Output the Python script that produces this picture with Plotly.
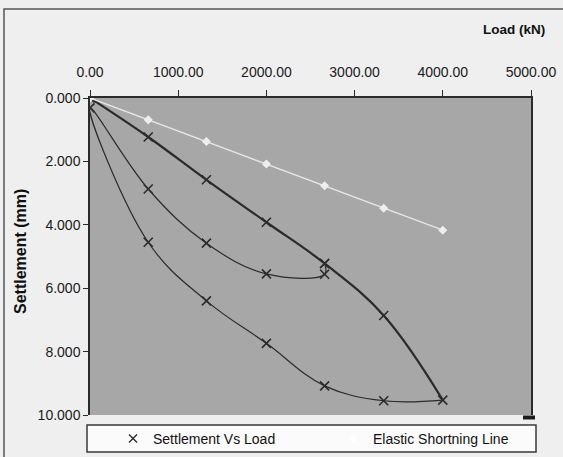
import plotly.graph_objects as go

# Pile load test: settlement readings through the load / unload cycles
load_kN = [0, 660, 1320, 2000, 2660, 3330, 4000, 3330, 2660, 2000, 1320, 660, 0,
           660, 1320, 2000, 2660, 2660]
settlement_mm = [0.00, 1.23, 2.58, 3.92, 5.22, 6.86, 9.53, 9.55, 9.08, 7.74, 6.40, 4.55, 0.31,
                 2.87, 4.58, 5.55, 5.56, 5.22]
n_loading = 7  # first stage: monotonic loading up to the peak load

# Elastic shortening of the pile shaft
elastic_load_kN = [0, 660, 1320, 2000, 2660, 3330, 4000]
elastic_settlement_mm = [0.00, 0.69, 1.37, 2.08, 2.77, 3.48, 4.17]

x_ticks = [0, 1000, 2000, 3000, 4000, 5000]
y_ticks = [0, 2, 4, 6, 8, 10]

# plot-area geometry in pixels (for placing paper-space decorations)
W, H = 563, 457
L, R, T, B = 90, 531, 98, 415


def px(x):
    return (x - L) / (R - L)


def py(y):
    return (B - y) / (B - T)


INK = "#2b2b2b"
FONT = "Liberation Sans, Arial, sans-serif"

fig = go.Figure()

# loading branch (heavier line)
fig.add_trace(go.Scatter(
    x=load_kN[:n_loading], y=settlement_mm[:n_loading],
    mode="lines", line=dict(color=INK, width=2.2, shape="spline", smoothing=1.1),
    showlegend=False, hoverinfo="skip"))

# unloading / reloading branches
fig.add_trace(go.Scatter(
    x=load_kN[n_loading - 1:], y=settlement_mm[n_loading - 1:],
    mode="lines", line=dict(color=INK, width=1.2, shape="spline", smoothing=1.1),
    showlegend=False, hoverinfo="skip"))

# readings
fig.add_trace(go.Scatter(
    x=load_kN, y=settlement_mm, mode="markers",
    marker=dict(symbol="x-thin", size=9, line=dict(color=INK, width=1.6)),
    showlegend=False, name="Settlement Vs Load"))

fig.add_trace(go.Scatter(
    x=elastic_load_kN, y=elastic_settlement_mm, mode="lines+markers",
    line=dict(color="#e6e6e6", width=1.4),
    marker=dict(symbol="diamond", size=7, color="#eeeeee"),
    showlegend=False, cliponaxis=False, name="Elastic Shortning Line"))

# legend entries (one legend box each so they sit side by side)
fig.add_trace(go.Scatter(
    x=[None], y=[None], mode="markers", name="Settlement Vs Load", legend="legend",
    marker=dict(symbol="x-thin", size=8, line=dict(color=INK, width=1.4))))
fig.add_trace(go.Scatter(
    x=[None], y=[None], mode="markers", name="Elastic Shortning Line", legend="legend2",
    marker=dict(symbol="diamond", size=7, color="#ffffff")))

shapes = [
    # outer frame
    dict(type="rect", xref="paper", yref="paper", x0=px(4), x1=px(620), y0=py(9), y1=py(520),
         line=dict(color="#555555", width=1.5), fillcolor="rgba(0,0,0,0)", layer="below"),
    # legend box
    dict(type="rect", xref="paper", yref="paper", x0=px(87), x1=px(536), y0=py(425), y1=py(452),
         line=dict(color="#3a3a3a", width=1.5), fillcolor="#fbfbfb", layer="below"),
    # small corner block at the bottom of the right border
    dict(type="rect", xref="paper", yref="paper", x0=px(523), x1=px(535), y0=py(415.5), y1=py(419.5),
         line=dict(width=0), fillcolor="#1a1a1a"),
]

annotations = [
    dict(text="<b>Load (kN)</b>", xref="paper", yref="paper", x=px(514), y=py(29),
         xanchor="center", yanchor="middle", showarrow=False,
         font=dict(family=FONT, size=13.5, color="#111111")),
    dict(text="<b>Settlement (mm)</b>", xref="paper", yref="paper", x=px(20), y=py(252),
         xanchor="center", yanchor="middle", showarrow=False, textangle=-90,
         font=dict(family=FONT, size=16, color="#111111")),
]

legend_style = dict(orientation="h", xanchor="left", yanchor="middle",
                    bgcolor="rgba(0,0,0,0)", borderwidth=0,
                    font=dict(family=FONT, size=14, color="#111111"))

fig.update_layout(
    width=W, height=H,
    margin=dict(l=L, r=W - R, t=T, b=H - B, pad=0, autoexpand=False),
    paper_bgcolor="#efefef",
    plot_bgcolor="#a7a7a7",
    font=dict(family=FONT, size=14, color="#1a1a1a"),
    shapes=shapes,
    annotations=annotations,
    legend=dict(x=px(113), y=py(439), **legend_style),
    legend2=dict(x=px(333), y=py(439), **legend_style),
    xaxis=dict(side="top", range=[0, 5000], tickvals=x_ticks, tickformat=".2f",
               ticks="outside", ticklen=6, tickwidth=1.3, tickcolor=INK,
               showline=True, linecolor=INK, linewidth=1.5, mirror=False,
               showgrid=False, zeroline=False, ticklabelstandoff=8,
               tickfont=dict(family=FONT, size=14, color="#1a1a1a")),
    yaxis=dict(range=[10, 0], tickvals=y_ticks, tickformat=".3f",
               ticks="outside", ticklen=5, tickwidth=1.3, tickcolor=INK,
               showline=True, linecolor=INK, linewidth=1.5, mirror=True,
               showgrid=False, zeroline=False,
               tickfont=dict(family=FONT, size=14, color="#1a1a1a")),
)

fig.write_html("out.html")
